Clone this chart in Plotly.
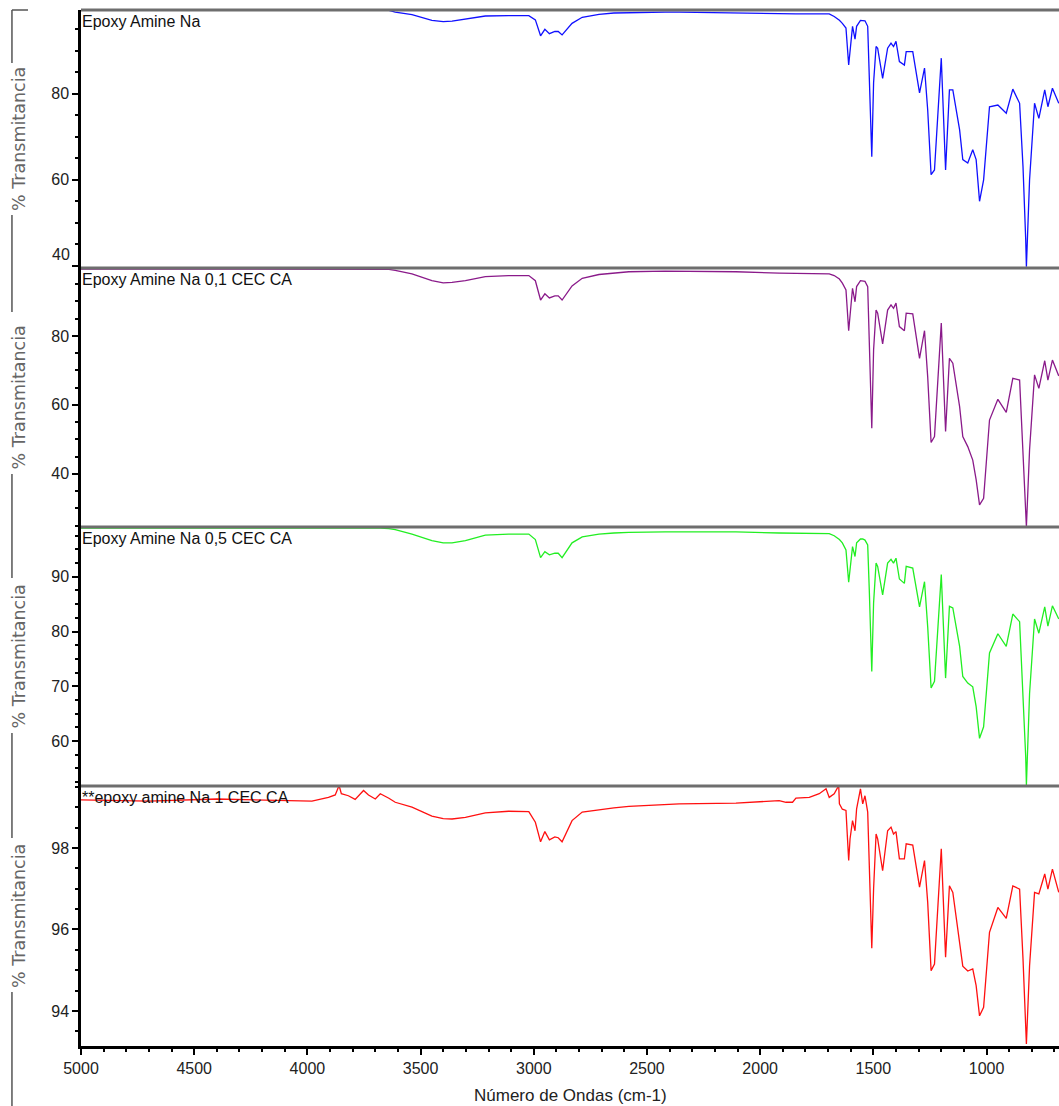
import plotly.graph_objects as go

# ---------------- data ----------------
wavenumber = [5000, 4700, 4400, 4130, 3980, 3907, 3877, 3860, 3850, 3819, 3789, 3752, 3730, 3700,
              3678, 3640, 3612, 3538, 3450, 3400, 3361, 3302, 3214, 3111, 3022, 2993, 2970, 2951,
              2931, 2907, 2892, 2875, 2831, 2786, 2712, 2646, 2580, 2420, 2358, 2107, 1916, 1886,
              1857, 1842, 1783, 1739, 1709, 1695, 1673, 1653, 1650, 1637, 1621, 1609, 1603, 1592,
              1581, 1574, 1557, 1547, 1537, 1525, 1518, 1507, 1499, 1488, 1481, 1459, 1437, 1422,
              1411, 1400, 1385, 1363, 1355, 1326, 1296, 1274, 1260, 1245, 1230, 1200, 1181, 1164,
              1149, 1119, 1105, 1083, 1061, 1046, 1031, 1013, 987, 950, 913, 884, 854, 839, 827,
              824, 810, 788, 769, 743, 729, 709, 681]

t_na = [99.4, 99.4, 99.4, 99.4, 99.4, 99.4, 99.4, 99.4, 99.4, 99.4, 99.4, 99.4, 99.4, 99.4,
        99.4, 99.4, 99.0, 98.4, 97.1, 96.8, 96.9, 97.4, 98.1, 98.2, 98.2, 97.2, 93.5, 95.0,
        94.0, 94.5, 94.5, 93.7, 96.4, 97.8, 98.5, 98.8, 98.9, 99.0, 99.0, 98.8, 98.5, 98.5,
        98.6, 98.6, 98.6, 98.6, 98.6, 98.6, 98.0, 97.3, 97.1, 96.4, 95.3, 86.7, 90.2, 95.7,
        92.7, 95.7, 97.1, 97.1, 97.0, 95.7, 84.9, 65.4, 82.6, 91.0, 90.6, 83.6, 90.6, 91.8,
        91.0, 92.2, 87.5, 86.7, 89.8, 89.8, 80.2, 86.0, 76.3, 61.2, 62.3, 88.3, 62.3, 80.9,
        80.9, 71.6, 64.7, 63.9, 67.0, 64.7, 55.0, 60.0, 77.0, 77.4, 75.5, 81.1, 77.8, 63.1, 46.0,
        39.8, 60.0, 77.8, 74.3, 80.9, 77.0, 81.3, 77.8]

t_01 = [99.4, 99.4, 99.4, 99.4, 99.4, 99.4, 99.4, 99.4, 99.4, 99.4, 99.4, 99.4, 99.4, 99.4,
        99.4, 99.3, 99.0, 98.0, 96.0, 95.4, 95.5, 96.0, 97.2, 97.5, 97.5, 96.0, 90.4, 92.2,
        91.0, 91.6, 91.6, 90.4, 94.5, 96.7, 97.8, 98.3, 98.6, 98.8, 98.8, 98.6, 98.2, 98.2,
        98.1, 98.1, 98.1, 98.0, 98.0, 98.0, 97.5, 96.7, 96.5, 95.3, 93.3, 81.5, 86.6, 93.8,
        89.9, 94.3, 96.0, 96.0, 95.8, 94.3, 78.8, 53.2, 75.9, 87.5, 86.6, 77.7, 87.5, 89.0,
        88.0, 89.5, 82.7, 81.5, 86.6, 86.4, 73.5, 81.5, 68.2, 49.1, 50.8, 83.7, 52.3, 73.5,
        72.1, 59.5, 50.8, 47.9, 44.0, 38.3, 31.0, 32.9, 55.6, 61.6, 57.8, 67.7, 67.2, 47.9, 30.5,
        24.7, 47.0, 68.7, 64.8, 72.8, 67.2, 73.0, 68.4]

t_05 = [98.9, 98.9, 98.9, 98.9, 98.9, 98.9, 98.9, 99.0, 99.0, 99.0, 99.0, 99.0, 98.9, 98.9,
        98.9, 98.8, 98.6, 97.8, 96.6, 96.2, 96.2, 96.6, 97.6, 97.8, 97.8, 96.8, 93.5, 94.6,
        94.0, 94.3, 94.3, 93.5, 96.2, 97.3, 97.8, 98.0, 98.1, 98.2, 98.2, 98.2, 98.0, 98.0,
        98.0, 98.0, 97.9, 97.9, 97.9, 97.9, 97.5, 97.0, 96.8, 96.2, 94.9, 89.0, 91.3, 95.5,
        93.7, 96.2, 96.9, 96.9, 96.7, 95.8, 87.6, 72.7, 85.2, 92.5, 91.9, 86.7, 92.5, 93.2,
        92.5, 93.4, 89.6, 88.8, 91.9, 91.6, 84.5, 89.1, 80.9, 69.7, 70.9, 90.4, 71.5, 84.6,
        84.3, 77.3, 71.8, 70.6, 69.9, 66.3, 60.5, 62.6, 76.1, 79.6, 77.3, 83.2, 81.8, 68.7, 57.1,
        52.0, 68.7, 82.3, 79.7, 84.5, 81.0, 84.7, 82.3]

t_1 = [99.18, 99.15, 99.20, 99.16, 99.15, 99.24, 99.30, 99.53, 99.33, 99.28, 99.19, 99.41, 99.30, 99.20,
       99.33, 99.22, 99.12, 99.00, 98.78, 98.72, 98.71, 98.75, 98.86, 98.90, 98.89, 98.63, 98.15, 98.40,
       98.20, 98.27, 98.25, 98.15, 98.67, 98.88, 98.94, 98.98, 99.02, 99.06, 99.08, 99.10, 99.16, 99.12,
       99.12, 99.22, 99.24, 99.33, 99.45, 99.24, 99.33, 99.53, 99.08, 98.95, 98.92, 97.69, 98.22, 98.67,
       98.42, 98.96, 99.45, 99.08, 99.28, 98.88, 97.40, 95.54, 96.99, 98.34, 98.22, 97.44, 98.42, 98.51,
       98.34, 98.40, 97.73, 97.73, 98.10, 98.07, 97.04, 97.69, 96.67, 94.99, 95.15, 97.98, 95.32, 97.07,
       96.91, 95.60, 95.10, 94.98, 95.03, 94.62, 93.88, 94.09, 95.93, 96.54, 96.27, 97.07, 96.99, 95.28, 93.64,
       93.19, 95.11, 96.91, 96.87, 97.36, 96.99, 97.48, 96.91]

series_names = ["Epoxy Amine Na", "Epoxy Amine Na 0,1 CEC CA",
                "Epoxy Amine Na 0,5 CEC CA", "**epoxy amine Na 1 CEC CA"]
series_values = [t_na, t_01, t_05, t_1]
series_colors = ["#1010ff", "#8a1a8a", "#22ee22", "#ff1010"]

y_ranges = [[39.5, 99.5], [24.6, 99.7], [51.8, 99.1], [93.14, 99.52]]
y_ticks = [[40, 60, 80], [40, 60, 80], [60, 70, 80, 90], [94, 96, 98]]
y_minor = [5, 5, 2.5, 0.5]
domains = [[0.751, 1.0], [0.501, 0.751], [0.251, 0.501], [0.0, 0.251]]

x_range = [5000, 680]
x_title = "Número de Ondas (cm-1)"
y_title = "% Transmitancia"

# ---------------- figure ----------------
FONT = "Liberation Sans Narrow, Liberation Sans, Arial"
TICKFONT = dict(family=FONT, size=16, color="#222")

fig = go.Figure()
yaxis_names = ["y", "y2", "y3", "y4"]
for i in range(4):
    fig.add_trace(go.Scatter(
        x=wavenumber, y=series_values[i], mode="lines",
        line=dict(color=series_colors[i], width=1.3),
        xaxis="x", yaxis=yaxis_names[i], hoverinfo="skip", showlegend=False))

layout = dict(
    width=1059, height=1106,
    margin=dict(l=81, r=0, t=10, b=60),
    paper_bgcolor="white", plot_bgcolor="white",
    showlegend=False,
    xaxis=dict(range=x_range, anchor="y4", domain=[0, 1],
               showline=True, linecolor="black", linewidth=2.5,
               ticks="outside", ticklen=6, tickwidth=1.5, tickcolor="black",
               tick0=0, dtick=500, showgrid=False, zeroline=False,
               minor=dict(ticks="outside", ticklen=3, dtick=100, tickcolor="black", showgrid=False),
               tickfont=TICKFONT),
)
for i in range(4):
    key = "yaxis" if i == 0 else "yaxis%d" % (i + 1)
    labels = [str(v) for v in y_ticks[i]]
    if i == 0:
        labels[0] = ""  # bottom label drawn slightly raised (as in the original)
    layout[key] = dict(
        domain=domains[i], range=y_ranges[i], anchor="x",
        showline=True, linecolor="black", linewidth=2.5,
        ticks="outside", ticklen=6, tickwidth=1.5, tickcolor="black",
        tickvals=y_ticks[i], ticktext=labels, showgrid=False, zeroline=False,
        minor=dict(ticks="outside", ticklen=3, tick0=0, dtick=y_minor[i], tickcolor="black", showgrid=False),
        tickfont=TICKFONT)
fig.update_layout(**layout)

annotations = []
shapes = []
for i in range(4):
    top = domains[i][1]
    bottom = domains[i][0]
    annotations.append(dict(
        text=series_names[i], xref="paper", yref="paper", x=0, y=top,
        xanchor="left", yanchor="top", yshift=-1, xshift=-1, showarrow=False,
        font=dict(family=FONT, size=16, color="#111")))
    annotations.append(dict(
        text=y_title, xref="paper", yref="paper", x=0, y=(top + bottom) / 2,
        xanchor="center", yanchor="middle", xshift=-62, textangle=-90, showarrow=False,
        font=dict(family="DejaVu Sans", size=17.5, color="#666")))
    shapes.append(dict(type="line", xref="paper", yref="paper", x0=0, x1=1, y0=top, y1=top,
                       line=dict(color="#6e6e6e", width=3)))

# raised "40" label of the top panel
annotations.append(dict(
    text=str(y_ticks[0][0]), xref="paper", yref="y", x=0, y=y_ticks[0][0],
    xanchor="right", yanchor="middle", xshift=-9, yshift=11, showarrow=False,
    font=TICKFONT))

annotations.append(dict(
    text=x_title, xref="paper", yref="paper", x=0.5, y=0, xanchor="center", yanchor="middle",
    yshift=-49, showarrow=False,
    font=dict(family=FONT, size=17, color="#222")))

gx = -0.0706
seg = [(1.0, 0.9488), (0.8021, 0.7085), (0.5521, 0.4517), (0.3021, 0.2008), (0.0521, -0.0579)]
for a, b in seg:
    shapes.append(dict(type="line", xref="paper", yref="paper", x0=gx, x1=gx, y0=a, y1=b,
                       line=dict(color="#555", width=1.5)))
shapes.append(dict(type="line", xref="paper", yref="paper", x0=gx, x1=-0.0542, y0=1.0, y1=1.0,
                   line=dict(color="#555", width=1.5)))

fig.update_layout(annotations=annotations, shapes=shapes)
fig.write_html("out.html")
